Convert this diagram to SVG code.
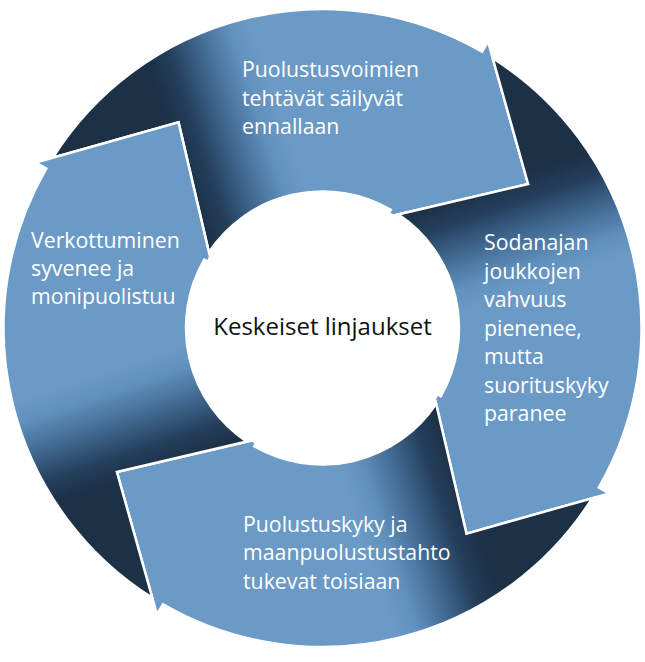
<svg xmlns="http://www.w3.org/2000/svg" xmlns:xlink="http://www.w3.org/1999/xlink" width="645" height="662" viewBox="0 0 645 662">
<style>
.arrow{stroke:#ffffff;stroke-width:2.5;stroke-linejoin:miter;stroke-miterlimit:6}
.lbl{font-family:'Open Sans','Noto Sans','Liberation Sans',sans-serif;font-size:21.3px;fill:#ffffff}
.ctr{font-family:'Open Sans','Noto Sans','Liberation Sans',sans-serif;font-size:24px;fill:#111111;text-anchor:middle}
</style>
<defs>
<linearGradient id="shade" gradientUnits="userSpaceOnUse" x1="190" y1="190" x2="294.3" y2="154.8">
<stop offset="0" stop-color="#1c3046"/>
<stop offset="0.22" stop-color="#243f5c"/>
<stop offset="0.52" stop-color="#426b93"/>
<stop offset="0.8" stop-color="#6090bc"/>
<stop offset="1" stop-color="#6a9ac5"/>
</linearGradient>
<path id="arrowShape" fill="url(#shade)" d="M 52.72 157.76 A 319 319 0 0 1 482.0 51.74 L 488.0 41.35 L 528.1 184.03 L 386.5 217.15 L 390.75 209.79 A 136.5 136.5 0 0 0 208.91 252.3 L 178.53 122.4 Z"/>
</defs>
<rect width="645" height="662" fill="#ffffff"/>
<g id="arrow-top">
<use xlink:href="#arrowShape" href="#arrowShape" class="arrow"/>
<text class="lbl" x="242" y="77">Puolustusvoimien</text>
<text class="lbl" x="242" y="105.5">tehtävät säilyvät</text>
<text class="lbl" x="242" y="134">ennallaan</text>
</g>
<g id="arrow-right">
<use xlink:href="#arrowShape" href="#arrowShape" class="arrow" transform="rotate(90 322.5 328)"/>
<text class="lbl" x="484" y="250">Sodanajan</text>
<text class="lbl" x="484" y="278.5">joukkojen</text>
<text class="lbl" x="484" y="307">vahvuus</text>
<text class="lbl" x="484" y="335.5">pienenee,</text>
<text class="lbl" x="484" y="364">mutta</text>
<text class="lbl" x="484" y="392.5">suorituskyky</text>
<text class="lbl" x="484" y="421">paranee</text>
</g>
<g id="arrow-bottom">
<use xlink:href="#arrowShape" href="#arrowShape" class="arrow" transform="rotate(180 322.5 328)"/>
<text class="lbl" x="243" y="532">Puolustuskyky ja</text>
<text class="lbl" x="243" y="560">maanpuolustustahto</text>
<text class="lbl" x="243" y="588.5">tukevat toisiaan</text>
</g>
<g id="arrow-left">
<use xlink:href="#arrowShape" href="#arrowShape" class="arrow" transform="rotate(270 322.5 328)"/>
<text class="lbl" x="31" y="248">Verkottuminen</text>
<text class="lbl" x="31" y="276">syvenee ja</text>
<text class="lbl" x="31" y="304">monipuolistuu</text>
</g>
<g id="center">
<circle cx="322.5" cy="328" r="134" fill="#ffffff"/>
<text class="ctr" x="322.5" y="335">Keskeiset linjaukset</text>
</g>
</svg>
